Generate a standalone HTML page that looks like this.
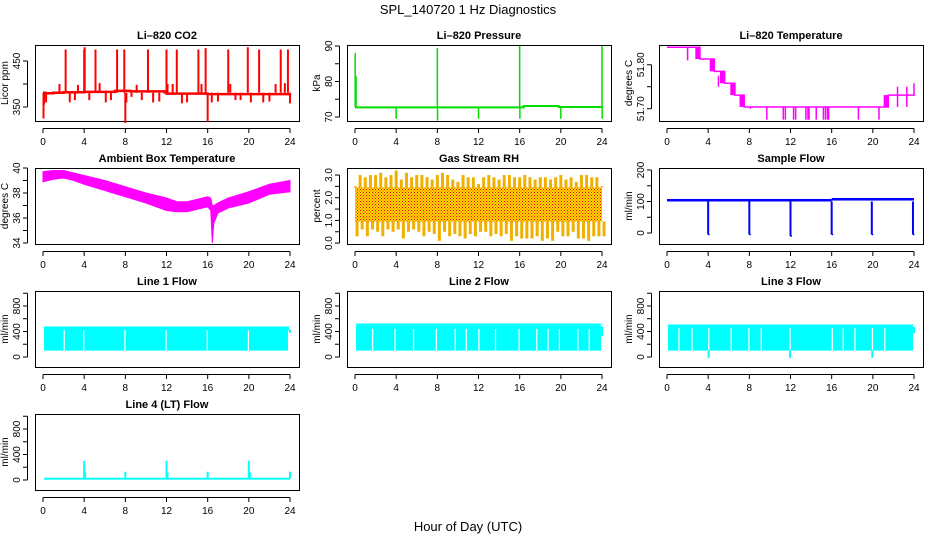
<!DOCTYPE html>
<html><head><meta charset="utf-8"><style>
html,body{margin:0;padding:0;background:#fff;}
svg{display:block;font-family:"Liberation Sans",sans-serif;}
</style></head><body>
<svg id="chart" width="936" height="540" viewBox="0 0 936 540">
<defs>
<pattern id="rhpat" width="3" height="3" patternUnits="userSpaceOnUse">
<rect width="3" height="3" fill="#ffd800"/><rect x="0" y="0" width="1" height="1" fill="#f00000"/><rect x="1.5" y="1.5" width="1" height="1" fill="#f03000"/>
</pattern>
</defs>
<text x="468" y="14" text-anchor="middle" font-size="13">SPL_140720  1 Hz Diagnostics</text>
<text x="468" y="531" text-anchor="middle" font-size="13">Hour of Day (UTC)</text>
</svg>
<script>
// ---- data ----
const xTicks = [0,4,8,12,16,20,24];
// CO2
const co2BaseHours = [0,0.2,1,2,4,7,8.5,11.8,12,16,24];
const co2BaseVals  = [381,380,381,382,383,385,384,382,379,378,379];
const co2SpikeHours = [0.05,0.1,0.3,1.6,2.2,2.6,3.1,3.4,4,4.05,4.5,5.1,5.5,6.1,6.6,7.2,7.9,8.0,8.1,8.6,9.1,9.6,10.2,10.7,11.3,12,12.1,12.6,13,13.5,14,15.1,15.4,15.8,16,16.4,17,18,18.2,18.7,19.2,19.9,20.2,21,21.4,22,22.6,23.1,23.5,23.8,24];
const co2SpikeVals  = [325,355,360,400,475,360,365,398,475,480,365,475,402,360,365,475,475,315,360,372,398,365,475,360,362,475,400,400,475,358,360,475,400,478,318,360,362,475,400,365,365,480,360,475,360,362,400,475,402,475,358];
// Pressure
const presBaseHours = [0,16.4,19.8,24];
const presBaseVals  = [72.7,73.1,72.8,72.8];
const presSpikeHours = [0.02,0.1,4,8,8.02,12,16,16.02,20,24,24.02];
const presSpikeVals  = [88,81.5,69.5,89.5,69,69.5,90,69.5,69.5,90,69.5];
// Li-820 temperature
const tempStepHours = [0,3.2,4.6,5.6,6.6,7.5,21.5,24];
const tempStepVals  = [51.84,51.813,51.785,51.758,51.731,51.704,51.731,51.758];
const tempDipHours = [2,5,8.1,9.7,11.3,11.5,12.3,12.5,13.5,13.7,13.8,14.5,15.2,15.4,15.6,15.7,18.6,20.6,22.4,23.3];
const tempDipVals  = [51.81,51.775,51.70,51.675,51.675,51.675,51.675,51.675,51.675,51.675,51.675,51.675,51.675,51.675,51.675,51.675,51.675,51.675,51.704,51.704];
// Ambient box temperature
const ambHours = [0,1,2,3,4,6,8,10,12,13,14,15,16,16.3,16.45,16.6,17,18,20,22,24];
const ambUpper = [39.7,39.8,39.8,39.6,39.4,39.0,38.5,38.0,37.6,37.3,37.3,37.5,37.7,37.6,37.0,37.0,37.2,37.6,38.1,38.7,39.0];
const ambLower = [38.9,39.1,39.2,39.0,38.7,38.2,37.7,37.2,36.6,36.5,36.5,36.7,36.9,36.6,34.0,35.6,36.4,36.8,37.2,37.9,38.1];
// Gas stream RH
const rhHours = [0,0.5,1,1.5,2,2.5,3,3.5,4,4.5,5,5.5,6,6.5,7,7.5,8,8.5,9,9.5,10,10.5,11,11.5,12,12.5,13,13.5,14,14.5,15,15.5,16,16.5,17,17.5,18,18.5,19,19.5,20,20.5,21,21.5,22,22.5,23,23.5,24];
const rhUpper = [2.5,3.0,2.9,3.0,3.0,3.1,2.9,3.0,3.2,2.8,3.1,2.9,3.0,3.0,2.9,2.8,3.0,3.1,3.0,2.8,2.7,3.0,2.9,2.9,2.6,2.9,3.0,2.9,2.8,3.0,3.0,2.9,2.9,3.0,2.9,2.8,2.9,2.9,2.8,2.9,3.0,2.8,2.9,2.7,3.0,3.0,2.9,2.9,2.5];
const rhLower = [0.3,0.6,0.3,0.6,0.5,0.3,0.6,0.5,0.6,0.2,0.5,0.6,0.5,0.3,0.5,0.4,0.1,0.5,0.3,0.4,0.3,0.2,0.4,0.3,0.5,0.5,0.3,0.4,0.3,0.4,0.1,0.3,0.2,0.2,0.2,0.3,0.1,0.2,0.1,0.5,0.3,0.3,0.5,0.2,0.2,0.1,0.3,0.3,0.3];
const rhCoreLo = 0.95, rhCoreHi = 2.45;
// Sample flow
const sfBaseHours = [0,16,24];
const sfBaseLo = [100,103,100];
const sfBaseHi = [108,111,108];
const sfDipHours = [4,8,12,16,19.9,23.9];
const sfDipVals = [-5,-5,-10,-5,-5,-5];
// Line flows
const l1Lo = 100, l1Hi = 480;
const l1GapHours = [2,3.9,7.9,11.9,15.9,19.9,23.8];
const l2Lo = 100, l2Hi = 500, l2Top = 525;
const l2GapHours = [1.65,3.83,5.63,7.85,9.68,10.76,11.98,13.59,15.89,17.6,18.7,19.8,21.6,22.7];
const l3Lo = 100, l3Hi = 510;
const l3GapHours = [1.1,2.37,4.0,6.18,7.9,9.1,11.9,16.0,17.06,18.2,19.9,21.1];
const l3DipHours = [4.05,11.95,19.95];
const l3DipVals = [-15,-15,-15];
const l4Base = 20;
const l4SpikeHours = [4,4.1,8,12,12.1,16,20,20.1,24];
const l4SpikeVals = [300,120,130,300,120,130,300,120,130];

// ---- drawing ----
const svg = document.getElementById('chart');
const NS = 'http://www.w3.org/2000/svg';
const colLeft = [35,347,659], rowTop = [45,168,291,414], BW = 264, BH = 76;
function el(tag, attrs, parent){ const e=document.createElementNS(NS,tag); for(const k in attrs) e.setAttribute(k,attrs[k]); (parent||svg).appendChild(e); return e; }
function panel(col,row,lo,hi,title,ylab,ticks,labels,name){
  const L=colLeft[col], T=rowTop[row];
  const g=el('g',{});
  
  
  const X=h=>L+8+h*247/24;
  const Y=v=>T+BH-(v-lo)/(hi-lo)*BH;
  const t=el('text',{x:L+BW/2,y:T-6,'text-anchor':'middle','font-size':11,'font-weight':'bold'},g);
  t.textContent=title;
  
  
  const ax=el('g',{stroke:'#000','stroke-width':1,fill:'none'},g);
  
  
  el('rect',{x:L+0.5,y:T+0.5,width:BW,height:BH},ax);
  el('line',{x1:X(0),x2:X(24),y1:T+BH+7.5,y2:T+BH+7.5},ax);
  xTicks.forEach(h=>{
    el('line',{x1:X(h),x2:X(h),y1:T+BH+7.5,y2:T+BH+12},ax);
    const tx=el('text',{x:X(h),y:T+BH+24,'text-anchor':'middle','font-size':10,fill:'#000',stroke:'none'},g);
    tx.textContent=h;
    
    
  });
  el('line',{x1:L-7.5,x2:L-7.5,y1:Y(ticks[0]),y2:Y(ticks[ticks.length-1])},ax);
  ticks.forEach((v,i)=>{
    el('line',{x1:L-12,x2:L-7.5,y1:Y(v),y2:Y(v)},ax);
    if(labels[i]!==''){
      const ty=el('text',{x:0,y:0,'text-anchor':'middle','font-size':10,fill:'#000',stroke:'none',transform:`translate(${L-15},${Y(v)}) rotate(-90)`},g);
      ty.textContent=labels[i];
      
      
    }
  });
  const yl=el('text',{x:0,y:0,'text-anchor':'middle','font-size':10,transform:`translate(${L-27},${T+BH/2}) rotate(-90)`},g);
  yl.textContent=ylab;
  
  
  const d=el('g',{},g);
  
  
  return {X,Y,g:d};
}
function vline(p,h,v1,v2,color,w){ el('line',{x1:p.X(h),x2:p.X(h),y1:p.Y(v1),y2:p.Y(v2),stroke:color,'stroke-width':w||1.5},p.g); }
function stepPath(p,hs,vs,color,w){
  let d=`M${p.X(hs[0])},${p.Y(vs[0])}`;
  for(let i=1;i<hs.length;i++){ d+=` L${p.X(hs[i])},${p.Y(vs[i-1])} L${p.X(hs[i])},${p.Y(vs[i])}`; }
  el('path',{d,fill:'none',stroke:color,'stroke-width':w},p.g);
}
function bandRect(p,h1,h2,lo,hi,fill){ el('rect',{x:p.X(h1),y:p.Y(hi),width:p.X(h2)-p.X(h1),height:p.Y(lo)-p.Y(hi),fill},p.g); }

// CO2
let p=panel(0,0,319.6,484.8,'Li\u2013820 CO2','Licor ppm',[350,400,450],['350','','450'],'co2');
stepPath(p,co2BaseHours,co2BaseVals,'#ff0000',2.5);
co2SpikeHours.forEach((h,i)=>{ const b=co2BaseVals[0]; vline(p,h,381,co2SpikeVals[i],'#ff0000',2); });
// Pressure
p=panel(1,0,68.87,90.28,'Li\u2013820 Pressure','kPa',[70,75,80,85,90],['70','','80','','90'],'pressure');
stepPath(p,presBaseHours,presBaseVals,'#00dd00',2);
presSpikeHours.forEach((h,i)=>vline(p,h,72.8,presSpikeVals[i],'#00dd00',1.5));
// Li-820 temp
p=panel(2,0,51.672,51.845,'Li\u2013820 Temperature','degrees C',[51.70,51.75,51.80],['51.70','','51.80'],'li820-temp');
for(let i=1;i<tempStepHours.length-1;i++){ bandRect(p,tempStepHours[i]-0.45,tempStepHours[i],Math.min(tempStepVals[i],tempStepVals[i-1]),Math.max(tempStepVals[i],tempStepVals[i-1]),'#ff00ff'); }
stepPath(p,tempStepHours,tempStepVals,'#ff00ff',1.5);
tempDipHours.forEach((h,i)=>vline(p,h,h<21.5&&h>7.5?51.704:(h<3.2?51.84:51.75),tempDipVals[i],'#ff00ff',1.5));
// Ambient
p=panel(0,1,33.92,40.0,'Ambient Box Temperature','degrees C',[34,35,36,37,38,39,40],['34','','36','','38','','40'],'ambient-temp');
{ let d=''; ambHours.forEach((h,i)=>{d+=(i?'L':'M')+p.X(h)+','+p.Y(ambUpper[i])+' ';});
  for(let i=ambHours.length-1;i>=0;i--) d+='L'+p.X(ambHours[i])+','+p.Y(ambLower[i])+' ';
  el('path',{d:d+'Z',fill:'#ff00ff',stroke:'#ff00ff','stroke-width':1},p.g); }
// RH
p=panel(1,1,-0.04,3.31,'Gas Stream RH','percent',[0,0.5,1,1.5,2,2.5,3],['0.0','','1.0','','2.0','','3.0'],'gas-rh');
bandRect(p,0,24,rhCoreLo,rhCoreHi,'url(#rhpat)');
rhHours.forEach((h,i)=>{ vline(p,h,rhCoreHi,rhUpper[i],'#f0b000',3); vline(p,h+0.2,rhLower[i],rhCoreLo,'#f0b000',3); });
// Sample flow
p=panel(2,1,-34.9,206.3,'Sample Flow','ml/min',[0,50,100,150,200],['0','','100','','200'],'sample-flow');
for(let i=0;i<sfBaseHours.length-1;i++) bandRect(p,sfBaseHours[i],sfBaseHours[i+1],sfBaseLo[i],sfBaseHi[i],'#0000ff');
sfDipHours.forEach((h,i)=>{ vline(p,h,100,sfDipVals[i],'#0000ff',2); bandRect(p,h,h+0.15,sfDipVals[i]-2,sfDipVals[i]+2,'#0000ff'); });
// Line flows
const flowTicks=[0,200,400,600,800,1000], flowLabels=['0','','400','','800',''];
function flowPanel(col,row,title,name,lo,hi,gaps){
  const q=panel(col,row,-157,1035,title,'ml/min',flowTicks,flowLabels,name);
  bandRect(q,0.1,23.9,lo,hi,'#00ffff');
  gaps.forEach(h=>bandRect(q,h,h+0.12,lo,hi-60,'#ffffff'));
  return q;
}
p=flowPanel(0,2,'Line 1 Flow','line1-flow',l1Lo,l1Hi,l1GapHours);
bandRect(p,23.9,24.1,380,430,'#00ffff');
p=flowPanel(1,2,'Line 2 Flow','line2-flow',l2Lo,l2Hi,l2GapHours);
bandRect(p,0.1,23.9,l2Hi,l2Top,'#00ffff');
bandRect(p,23.9,24.1,330,480,'#00ffff');
p=flowPanel(2,2,'Line 3 Flow','line3-flow',l3Lo,l3Hi,l3GapHours);
l3DipHours.forEach((h,i)=>vline(p,h,100,l3DipVals[i],'#00ffff',2));
bandRect(p,23.9,24.1,370,470,'#00ffff');
p=panel(0,3,-157,1035,'Line 4 (LT) Flow','ml/min',flowTicks,flowLabels,'line4-flow');
bandRect(p,0.1,24,l4Base-15,l4Base+15,'#00ffff');
l4SpikeHours.forEach((h,i)=>vline(p,h,l4Base,l4SpikeVals[i],'#00ffff',2));
</script>
</body></html>
